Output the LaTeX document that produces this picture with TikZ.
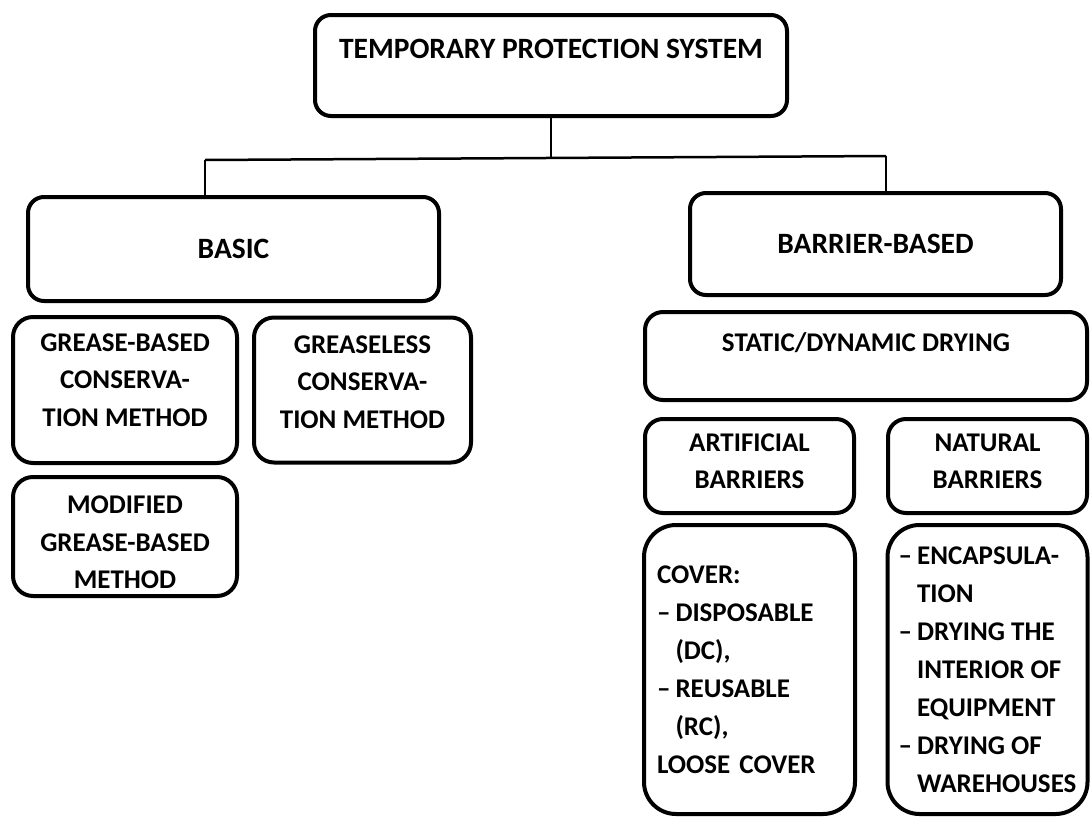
\documentclass[tikz,border=0pt]{standalone}
\usepackage{fontspec}
\setmainfont{Carlito}
\usetikzlibrary{positioning}
\newcommand{\itemdash}{\makebox[18.5pt][l]{–}}
\newcommand{\itemgap}{\hspace*{18.5pt}}

\begin{document}
\begin{tikzpicture}[x=1pt,y=-1pt,
  box/.style={draw,line width=4pt,rounded corners=#1,align=center,inner sep=0pt,
    font=\fontsize{27}{37.5}\selectfont\bfseries},
  box/.default=16pt,
  headbox/.style={box,font=\fontsize{29.5}{37.5}\selectfont\bfseries},
  listbox/.style={box=32pt,align=left,font=\fontsize{27}{38}\selectfont\bfseries},
  conn/.style={line width=2.5pt}]
\useasboundingbox (0,0) rectangle (1090,817);
% top level
\node[headbox,minimum width=472pt,minimum height=101pt] (system) at (551,65.5) {TEMPORARY PROTECTION SYSTEM\\[-4pt]\mbox{}};
\node[headbox,minimum width=411pt,minimum height=104pt] (basic) at (233.5,249) {BASIC};
\node[headbox,minimum width=371pt,minimum height=102pt] (barrier) at (875.5,244) {BARRIER-BASED};
% basic methods
\node[box=20pt,minimum width=224pt,minimum height=146pt] (grease) at (125,390) {GREASE-BASED\\CONSERVA-\\TION METHOD\\[-17pt]\mbox{}};
\node[box=20pt,minimum width=217pt,minimum height=145pt,right=13pt of grease] (greaseless) {GREASELESS\\CONSERVA-\\TION METHOD\\[-21pt]\mbox{}};
\node[box=20pt,minimum width=224pt,minimum height=119pt,below=10pt of grease] (modified) {\rule{0pt}{30pt}MODIFIED\\GREASE-BASED\\METHOD};
% barrier methods
\node[box=18pt,minimum width=442pt,minimum height=88pt] (drying) at (866,356) {STATIC/DYNAMIC DRYING\\[-9pt]\mbox{}};
\node[box=18pt,minimum width=209pt,minimum height=94pt] (artificial) at (749.5,466) {ARTIFICIAL\\BARRIERS\\[-28pt]\mbox{}};
\node[box=18pt,minimum width=199pt,minimum height=94pt,right=30pt of artificial] (natural) {NATURAL\\BARRIERS\\[-28pt]\mbox{}};
\node[listbox,text width=185pt,minimum width=211pt,minimum height=289pt,below=8pt of artificial] (cover)
  {COVER:\\\itemdash DISPOSABLE\\\itemgap(DC),\\\itemdash REUSABLE\\\itemgap(RC),\\\mbox{LOOSE COVER}};
\node[listbox,minimum width=200pt,minimum height=289pt,below=8pt of natural] (natlist)
  {\itemdash ENCAPSULA-\\\itemgap TION\\\itemdash DRYING THE\\\itemgap INTERIOR OF\\\itemgap EQUIPMENT\\\itemdash DRYING OF\\\itemgap WAREHOUSES};
% connectors
\coordinate (hub) at (551,157);
\coordinate (lefttop) at (205,160);
\coordinate (righttop) at (886,156);
\draw[conn] (system) -- (hub);
\draw[conn] (lefttop) -- (righttop);
\draw[conn] (lefttop) -- (lefttop |- basic.north);
\draw[conn] (righttop) -- (righttop |- barrier.north);
\end{tikzpicture}
\end{document}
